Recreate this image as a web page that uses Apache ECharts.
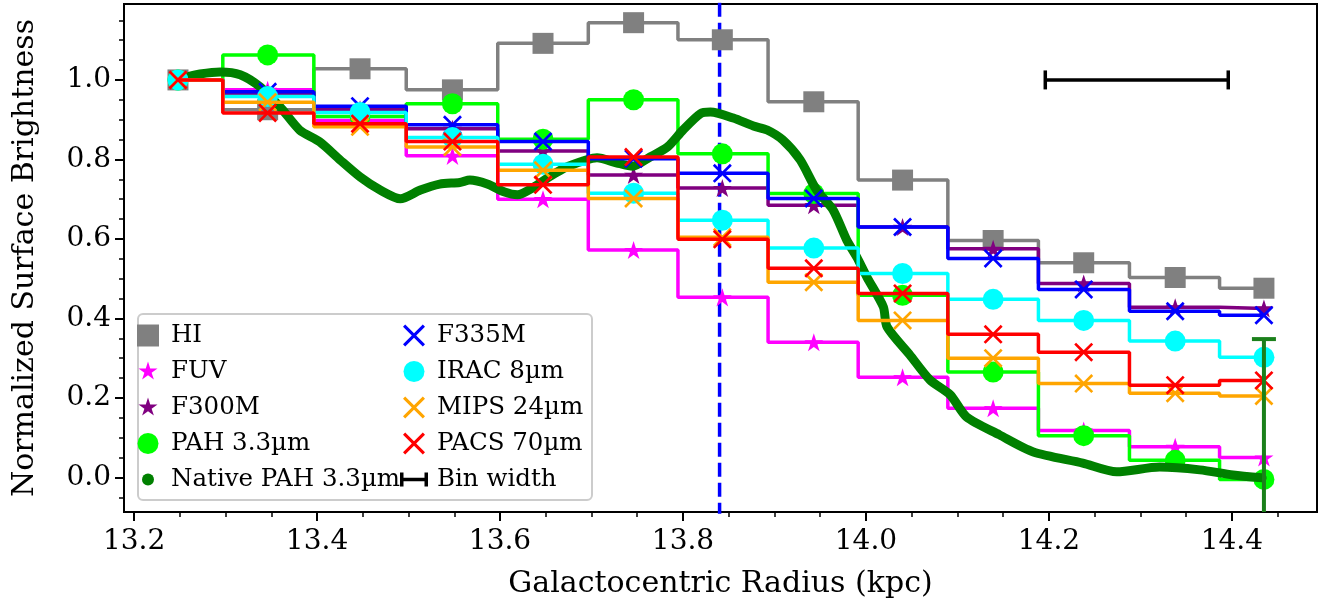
<!DOCTYPE html>
<html>
<head>
<meta charset="utf-8">
<title>surface brightness profiles</title>
<script src="https://cdn.jsdelivr.net/npm/echarts@6/dist/echarts.min.js"></script>
<style>html,body{margin:0;padding:0;background:#fff;}</style>
</head>
<body>
<div id="main" style="width:1324px;height:609px;"></div>
<script type="text/javascript">

// bin centres (kpc)
var radius = [13.248, 13.346, 13.447, 13.548, 13.647, 13.746, 13.843, 13.943, 14.040, 14.139, 14.238, 14.338, 14.435];

var hiVals    = [1.0, 0.925, 1.028, 0.975, 1.092, 1.144, 1.101, 0.945, 0.748, 0.596, 0.540, 0.503, 0.476];
var fuvVals   = [1.0, 0.975, 0.898, 0.809, 0.700, 0.572, 0.453, 0.340, 0.252, 0.174, 0.118, 0.077, 0.050];
var f300Vals  = [1.0, 0.965, 0.926, 0.877, 0.821, 0.761, 0.728, 0.685, 0.630, 0.575, 0.488, 0.428, 0.425];
var pahVals   = [1.0, 1.063, 0.908, 0.940, 0.851, 0.950, 0.814, 0.714, 0.458, 0.265, 0.105, 0.043, -0.005];
var f335Vals  = [1.0, 0.970, 0.934, 0.887, 0.845, 0.802, 0.765, 0.702, 0.630, 0.551, 0.473, 0.418, 0.408];
var iracVals  = [1.0, 0.958, 0.918, 0.855, 0.788, 0.715, 0.647, 0.577, 0.513, 0.448, 0.395, 0.343, 0.302];
var mipsVals  = [1.0, 0.944, 0.882, 0.831, 0.773, 0.702, 0.604, 0.491, 0.395, 0.300, 0.236, 0.212, 0.205];
var pacsVals  = [1.0, 0.917, 0.890, 0.845, 0.736, 0.806, 0.599, 0.526, 0.463, 0.360, 0.315, 0.232, 0.244];

// native resolution PAH 3.3um profile
var nativeX = [13.248, 13.258, 13.272, 13.294, 13.316, 13.338, 13.360, 13.381, 13.403, 13.425,
               13.447, 13.469, 13.491, 13.513, 13.534, 13.556, 13.567, 13.586, 13.605, 13.619,
               13.636, 13.655, 13.673, 13.706, 13.728, 13.745, 13.764, 13.783, 13.800, 13.819,
               13.830, 13.855, 13.877, 13.892, 13.909, 13.928, 13.946, 13.964, 13.979, 13.990,
               14.001, 14.019, 14.023, 14.048, 14.070, 14.092, 14.110, 14.146, 14.183, 14.237,
               14.274, 14.321, 14.365, 14.401, 14.433];
var nativeY = [1.000, 1.008, 1.015, 1.020, 1.013, 0.982, 0.931, 0.874, 0.844, 0.799,
               0.756, 0.723, 0.701, 0.723, 0.738, 0.742, 0.748, 0.738, 0.718, 0.711,
               0.729, 0.758, 0.781, 0.804, 0.791, 0.783, 0.806, 0.831, 0.874, 0.915,
               0.919, 0.904, 0.884, 0.874, 0.849, 0.799, 0.723, 0.673, 0.597, 0.554,
               0.504, 0.429, 0.379, 0.308, 0.245, 0.208, 0.152, 0.107, 0.064, 0.036,
               0.014, 0.026, 0.019, 0.006, -0.001];

// error on the last PAH bin, bin width bar, reference radius
var pahErr = [[14.435, -0.005, 0.353]];
var binWidth = [[14.196, 14.396, 1.0]];
var refRadius = 13.840;

var xMajor = [13.2, 13.4, 13.6, 13.8, 14.0, 14.2, 14.4];
var xMinor = [13.25, 13.3, 13.35, 13.45, 13.5, 13.55, 13.65, 13.7, 13.75, 13.85, 13.9, 13.95,
              14.05, 14.1, 14.15, 14.25, 14.3, 14.35, 14.45];
var yMajor = [0.0, 0.2, 0.4, 0.6, 0.8, 1.0];
var yMinor = [-0.05, 0.05, 0.1, 0.15, 0.25, 0.3, 0.35, 0.45, 0.5, 0.55, 0.65, 0.7, 0.75,
              0.85, 0.9, 0.95, 1.05, 1.1, 1.15];

var X_MIN = 13.189, X_MAX = 14.493, Y_MIN = -0.087, Y_MAX = 1.191;
var FONT = 'DejaVu Serif';

var STAR = 'path://M10,0L12.23,6.93L19.51,6.91L13.61,11.17L15.88,18.09L10,13.8L4.12,18.09L6.39,11.17L0.49,6.91L7.77,6.93Z';
var CROSS = 'path://M2,0L10,8L18,0L20,2L12,10L20,18L18,20L10,12L2,20L0,18L8,10L0,2Z';
var SQUARE_LEG = 'path://M0,0h21v21h-21z';
var STAR_LEG = 'path://M-1,-1M21,21M10,0L12.23,6.93L19.51,6.91L13.61,11.17L15.88,18.09L10,13.8L4.12,18.09L6.39,11.17L0.49,6.91L7.77,6.93Z';
var CIRCLE_LEG = 'path://M0,0M22,22M0.5,11a10.5,10.5 0 1,0 21,0a10.5,10.5 0 1,0 -21,0z';
var DOT_LEG = 'path://M0,0M22,22M5,11a6,6 0 1,0 12,0a6,6 0 1,0 -12,0z';
var BIN_LEG = 'path://M0,0M28,22M0,4h3.5v14h-3.5zM0,9.3h28v3.4h-28zM24.5,4h3.5v14h-3.5z';

function pairs(xs, ys) {
    var out = [];
    for (var i = 0; i < xs.length; i++) out.push([xs[i], ys[i]]);
    return out;
}

function stepSeries(name, vals, color, symbol, size, z) {
    return {
        name: name,
        type: 'line',
        step: 'middle',
        data: pairs(radius, vals),
        symbol: symbol,
        symbolSize: size,
        symbolKeepAspect: true,
        showSymbol: true,
        lineStyle: {color: color, width: 3.5},
        itemStyle: {color: color, borderWidth: 0},
        emphasis: {disabled: true},
        z: z
    };
}

var myChart = echarts.init(document.getElementById('main'));

var legendText = {fontFamily: FONT, fontSize: 24.5, color: '#000', lineHeight: 22};

var option = {
    animation: false,
    backgroundColor: '#fff',
    grid: {left: 124, right: 7, top: 4, bottom: 97, show: true, borderColor: '#000', borderWidth: 2,
           backgroundColor: 'transparent', outerBoundsMode: 'none'},
    xAxis: [{
        type: 'value', min: X_MIN, max: X_MAX, position: 'bottom',
        name: 'Galactocentric Radius (kpc)', nameLocation: 'middle', nameGap: 57,
        nameTextStyle: {fontFamily: FONT, fontSize: 30, color: '#000'},
        axisLine: {show: true, onZero: false, lineStyle: {color: '#000', width: 2}},
        axisTick: {show: true, customValues: xMajor, length: 9, lineStyle: {color: '#000', width: 2}},
        axisLabel: {customValues: xMajor, fontFamily: FONT, fontSize: 28, color: '#000', margin: 16,
                    formatter: function (v) { return v.toFixed(1); }},
        splitLine: {show: false}
    }, {
        type: 'value', min: X_MIN, max: X_MAX, position: 'bottom',
        axisLine: {show: false, onZero: false},
        axisTick: {show: true, customValues: xMinor, length: 5, lineStyle: {color: '#000', width: 1.5}},
        axisLabel: {show: false},
        splitLine: {show: false}
    }],
    yAxis: [{
        type: 'value', min: Y_MIN, max: Y_MAX, position: 'left',
        name: 'Normalized Surface Brightness', nameLocation: 'middle', nameGap: 84,
        nameTextStyle: {fontFamily: FONT, fontSize: 30, color: '#000'},
        axisLine: {show: true, onZero: false, lineStyle: {color: '#000', width: 2}},
        axisTick: {show: true, customValues: yMajor, length: 9, lineStyle: {color: '#000', width: 2}},
        axisLabel: {customValues: yMajor, fontFamily: FONT, fontSize: 28, color: '#000', margin: 13,
                    formatter: function (v) { return v.toFixed(1); }},
        splitLine: {show: false}
    }, {
        type: 'value', min: Y_MIN, max: Y_MAX, position: 'left',
        axisLine: {show: false, onZero: false},
        axisTick: {show: true, customValues: yMinor, length: 5, lineStyle: {color: '#000', width: 1.5}},
        axisLabel: {show: false},
        splitLine: {show: false}
    }],
    legend: [{
        orient: 'vertical', left: 137, top: 323, padding: 0, itemGap: 11,
        itemWidth: 36, itemHeight: 22, selectedMode: false, z: 60,
        textStyle: legendText,
        data: [
            {name: 'HI', icon: SQUARE_LEG, itemStyle: {color: '#808080', borderWidth: 0}},
            {name: 'FUV', icon: STAR_LEG, itemStyle: {color: '#ff00ff', borderWidth: 0}},
            {name: 'F300M', icon: STAR_LEG, itemStyle: {color: '#800080', borderWidth: 0}},
            {name: 'PAH 3.3\u00b5m', icon: CIRCLE_LEG, itemStyle: {color: '#00ff00', borderWidth: 0}},
            {name: 'Native PAH 3.3\u00b5m', icon: DOT_LEG, itemStyle: {color: '#008000', borderWidth: 0}}
        ]
    }, {
        orient: 'vertical', left: 400, top: 323, padding: 0, itemGap: 11,
        itemWidth: 36, itemHeight: 22, selectedMode: false, z: 60,
        textStyle: legendText,
        data: [
            {name: 'F335M', icon: CROSS, itemStyle: {color: '#0000ff', borderWidth: 0}},
            {name: 'IRAC 8\u00b5m', icon: CIRCLE_LEG, itemStyle: {color: '#00ffff', borderWidth: 0}},
            {name: 'MIPS 24\u00b5m', icon: CROSS, itemStyle: {color: '#ffa500', borderWidth: 0}},
            {name: 'PACS 70\u00b5m', icon: CROSS, itemStyle: {color: '#ff0000', borderWidth: 0}},
            {name: 'Bin width', icon: BIN_LEG, itemStyle: {color: '#000', borderWidth: 0}}
        ]
    }],
    graphic: [{
        type: 'rect', left: 137, top: 313, z: 50, silent: true,
        shape: {width: 454, height: 186, r: 5},
        style: {fill: 'rgba(255,255,255,0.8)', stroke: '#cccccc', lineWidth: 2}
    }],
    series: [
        {
            name: 'ref', type: 'line', data: [[refRadius, -0.3], [refRadius, 1.3]],
            symbol: 'none', clip: true, silent: true, z: 1,
            lineStyle: {color: '#0000ff', width: 3.5, type: [14, 6]}
        },
        stepSeries('HI', hiVals, '#808080', 'rect', 21, 2),
        stepSeries('FUV', fuvVals, '#ff00ff', STAR, 19, 3),
        stepSeries('F300M', f300Vals, '#800080', STAR, 19, 4),
        stepSeries('PAH 3.3\u00b5m', pahVals, '#00ff00', 'circle', 21, 5),
        {
            name: 'Native PAH 3.3\u00b5m', type: 'line', data: pairs(nativeX, nativeY),
            smooth: 0.25, symbol: 'none', z: 6,
            lineStyle: {color: '#008000', width: 9, cap: 'round', join: 'round'},
            itemStyle: {color: '#008000', borderWidth: 0},
            emphasis: {disabled: true}
        },
        stepSeries('F335M', f335Vals, '#0000ff', CROSS, 19, 7),
        stepSeries('IRAC 8\u00b5m', iracVals, '#00ffff', 'circle', 21, 8),
        stepSeries('MIPS 24\u00b5m', mipsVals, '#ffa500', CROSS, 19, 9),
        stepSeries('PACS 70\u00b5m', pacsVals, '#ff0000', CROSS, 19, 10),
        {
            name: 'pahErr', type: 'custom', data: pahErr, z: 11, silent: true,
            renderItem: function (params, api) {
                var x = api.value(0), y = api.value(1), e = api.value(2);
                var top = api.coord([x, y + e]);
                var bot = api.coord([x, y - e]);
                var cs = params.coordSys;
                var yLo = cs.y, yHi = cs.y + cs.height;
                var st = {stroke: '#1b801b', lineWidth: 4};
                var kids = [{type: 'line', shape: {x1: top[0], y1: Math.max(top[1], yLo), x2: bot[0], y2: Math.min(bot[1], yHi)}, style: st}];
                if (top[1] >= yLo) kids.push({type: 'line', shape: {x1: top[0] - 12, y1: top[1], x2: top[0] + 12, y2: top[1]}, style: st});
                if (bot[1] <= yHi) kids.push({type: 'line', shape: {x1: bot[0] - 12, y1: bot[1], x2: bot[0] + 12, y2: bot[1]}, style: st});
                return {type: 'group', children: kids};
            }
        },
        {
            name: 'Bin width', type: 'custom', data: binWidth, z: 12, silent: true,
            itemStyle: {color: '#000'},
            renderItem: function (params, api) {
                var a = api.coord([api.value(0), api.value(2)]);
                var b = api.coord([api.value(1), api.value(2)]);
                var st = {stroke: '#000', lineWidth: 3.5};
                return {type: 'group', children: [
                    {type: 'line', shape: {x1: a[0], y1: a[1], x2: b[0], y2: b[1]}, style: st},
                    {type: 'line', shape: {x1: a[0], y1: a[1] - 9.5, x2: a[0], y2: a[1] + 9.5}, style: st},
                    {type: 'line', shape: {x1: b[0], y1: b[1] - 9.5, x2: b[0], y2: b[1] + 9.5}, style: st}
                ]};
            }
        }
    ]
};

myChart.setOption(option);

</script>
</body>
</html>
